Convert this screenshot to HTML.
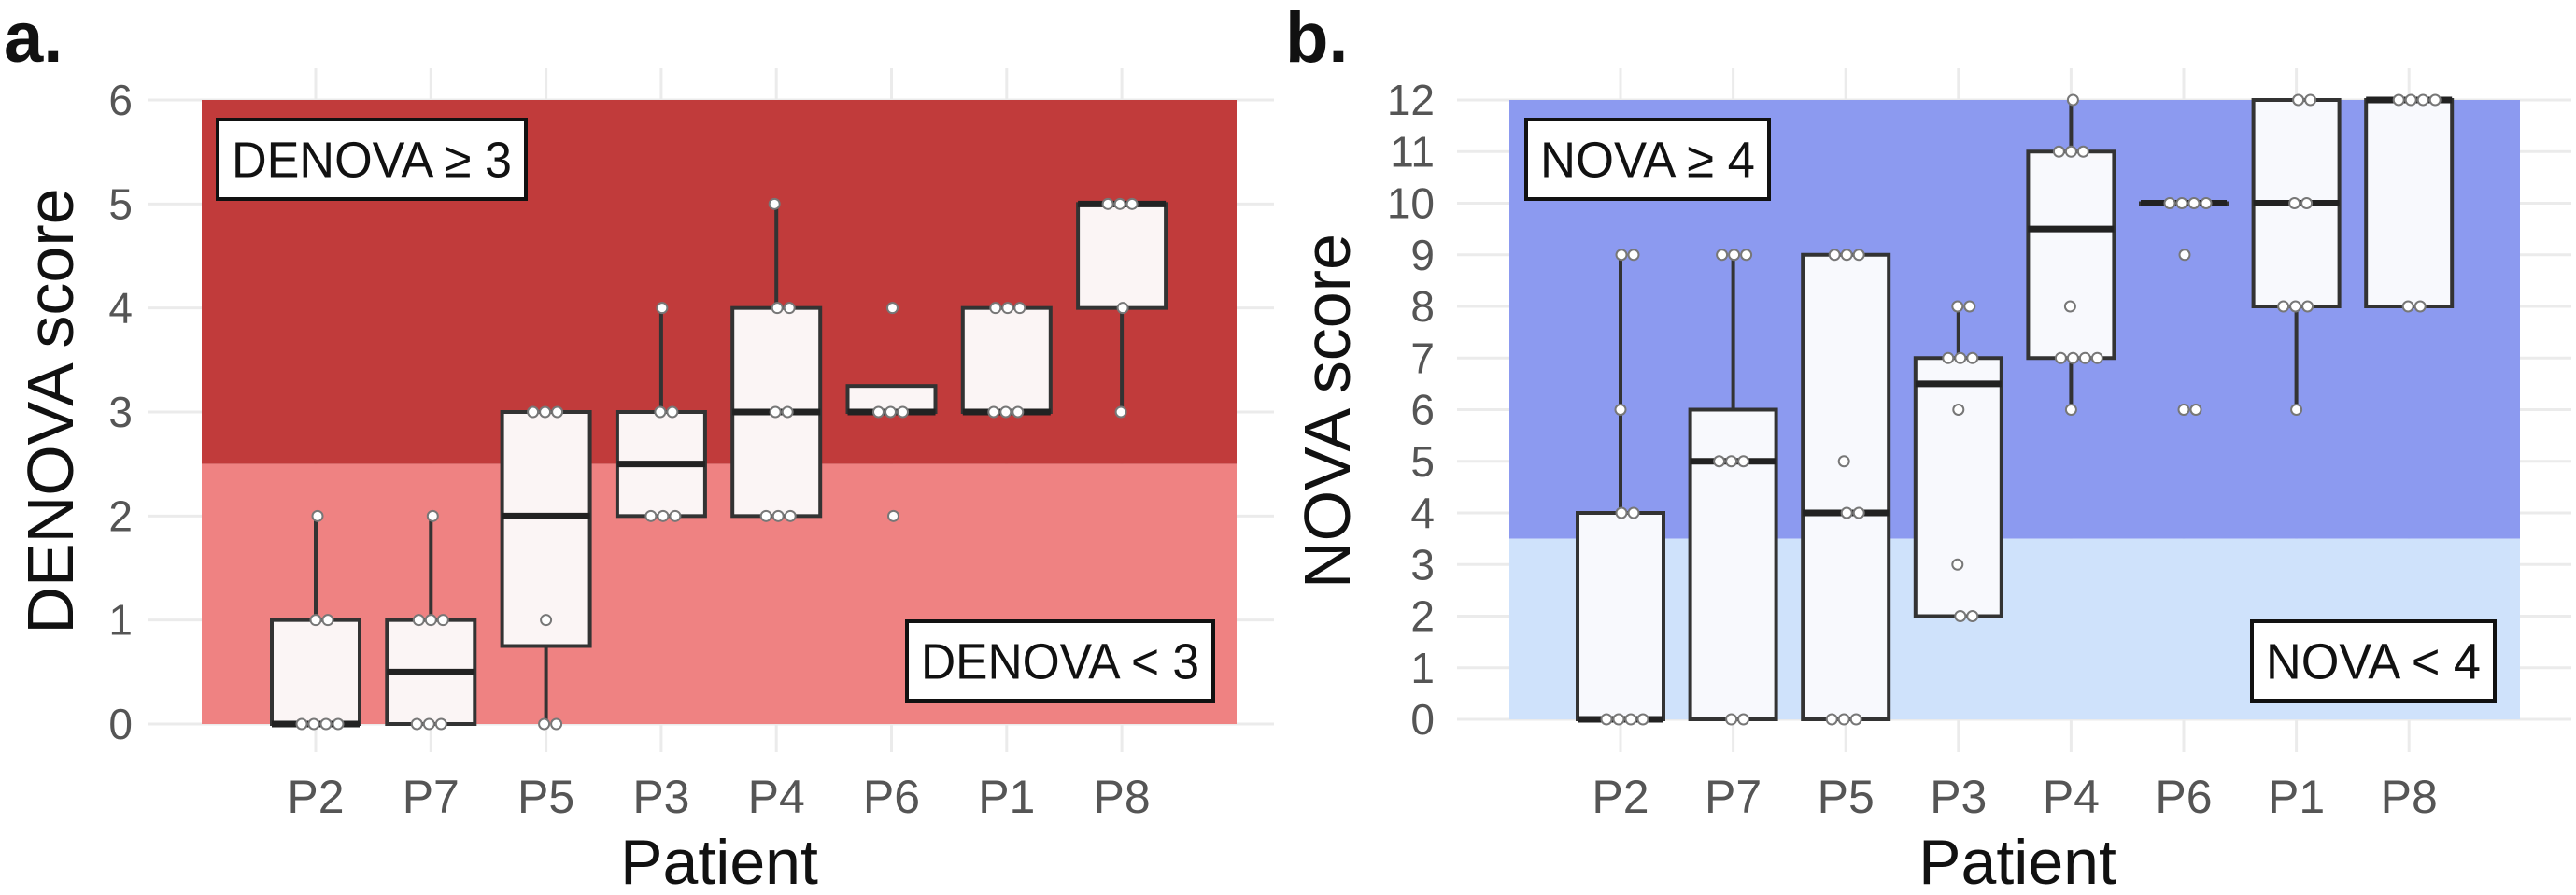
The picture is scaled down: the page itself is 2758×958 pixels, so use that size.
<!DOCTYPE html>
<html><head><meta charset="utf-8">
<style>
html,body{margin:0;padding:0;background:#fff;}
svg{display:block;font-family:"Liberation Sans",sans-serif;}
</style></head>
<body>
<svg id="chart" width="2758" height="958" viewBox="0 0 2758 958"></svg>
<script>
const categories = ["P2","P7","P5","P3","P4","P6","P1","P8"];
// Panel a: DENOVA
const denovaQ1 =  [0, 0,   0.75, 2,   2, 3,    3, 4];
const denovaMed = [0, 0.5, 2,    2.5, 3, 3,    3, 5];
const denovaQ3 =  [1, 1,   3,    3,   4, 3.25, 4, 5];
const denovaLo =  [0, 0,   0,    2,   2, 3,    3, 3];
const denovaHi =  [2, 2,   3,    4,   5, 3.25, 4, 5];
const denovaPts = [
  [2,1,1,0,0,0,0],[2,1,1,1,0,0,0],[3,3,3,1,0,0],[4,3,3,2,2,2],
  [5,4,4,3,3,2,2,2],[4,3,3,3,2],[4,4,4,3,3,3],[5,5,5,4,3]];
const denovaTicks = [0,1,2,3,4,5,6];
const denovaThreshold = 2.5;
// Panel b: NOVA
const novaQ1 =  [0, 0, 0, 2,   7,   10, 8,  8];
const novaMed = [0, 5, 4, 6.5, 9.5, 10, 10, 12];
const novaQ3 =  [4, 6, 9, 7,   11,  10, 12, 12];
const novaLo =  [0, 0, 0, 2,   6,   10, 6,  8];
const novaHi =  [9, 9, 9, 8,   12,  10, 12, 12];
const novaPts = [
  [9,9,6,4,4,0,0,0,0],[9,9,9,5,5,5,0,0],[9,9,9,5,4,4,0,0,0],[8,8,7,7,7,6,3,2,2],
  [12,11,11,11,8,7,7,7,7,6],[10,10,10,10,9,6,6],[12,12,10,10,8,8,8,6],[12,12,12,12,8,8]];
const novaTicks = [0,1,2,3,4,5,6,7,8,9,10,11,12];
const novaThreshold = 3.5;

const NS="http://www.w3.org/2000/svg";
const svg=document.getElementById('chart');
function mk(tag,attrs,parent){const e=document.createElementNS(NS,tag);for(const k in attrs)e.setAttribute(k,attrs[k]);(parent||svg).appendChild(e);return e;}

function panel(cfg){
  const g=mk('g',{});
  
  
  const yS=v=>cfg.y0+(cfg.y1-cfg.y0)*(v/cfg.max);
  const xS=i=>cfg.xFirst+i*cfg.step;
  // gridlines
  cfg.ticks.forEach(t=>{
    const l=mk('line',{x1:cfg.gx0,x2:cfg.gx1,y1:yS(t),y2:yS(t),stroke:'#ebebeb','stroke-width':3},g);
    
    
  });
  categories.forEach((c,i)=>{
    const l=mk('line',{x1:xS(i),x2:xS(i),y1:73,y2:805,stroke:'#ebebeb','stroke-width':3},g);
    
    
  });
  // backgrounds
  const hi=mk('rect',{x:cfg.bx0,y:yS(cfg.max),width:cfg.bx1-cfg.bx0,height:yS(cfg.thr)-yS(cfg.max),fill:cfg.dark},g);
  
  
  const lo=mk('rect',{x:cfg.bx0,y:yS(cfg.thr),width:cfg.bx1-cfg.bx0,height:yS(0)-yS(cfg.thr),fill:cfg.light},g);
  
  
  // boxes
  categories.forEach((c,i)=>{
    const x=xS(i),w=cfg.bw;
    const bg=mk('g',{},g);
    
    
    mk('line',{x1:x,x2:x,y1:yS(cfg.hi[i]),y2:yS(cfg.q3[i]),stroke:'#333','stroke-width':4},bg);
    mk('line',{x1:x,x2:x,y1:yS(cfg.q1[i]),y2:yS(cfg.lo[i]),stroke:'#333','stroke-width':4},bg);
    mk('rect',{x:x-w/2,y:yS(cfg.q3[i]),width:w,height:Math.max(1,yS(cfg.q1[i])-yS(cfg.q3[i])),fill:cfg.boxFill,stroke:'#333','stroke-width':4},bg);
    mk('line',{x1:x-w/2,x2:x+w/2,y1:yS(cfg.med[i]),y2:yS(cfg.med[i]),stroke:'#222','stroke-width':7},bg);
    // points with deterministic jitter
    const seen={};
    cfg.pts[i].forEach(v=>{
      const k=seen[v]||0;seen[v]=k+1;
      const off=((k%2?1:-1)*Math.ceil(k/2)*13)+((v*7)%5)-2;
      const p=mk('circle',{cx:x+off,cy:yS(v),r:5.5,fill:'#fff',stroke:'#777','stroke-width':2},bg);
      
      
    });
  });
  // y ticks
  cfg.ticks.forEach(t=>{
    const tx=mk('text',{x:cfg.tickX,y:yS(t)+16,'text-anchor':'end','font-size':46,fill:'#555'},g);
    tx.textContent=t;
    
    
  });
  categories.forEach((c,i)=>{
    const tx=mk('text',{x:xS(i),y:870,'text-anchor':'middle','font-size':50,fill:'#555'},g);
    tx.textContent=c;
    
    
  });
  const xt=mk('text',{x:cfg.xTitleX,y:946,'text-anchor':'middle','font-size':68,fill:'#111'},g);
  xt.textContent='Patient';
  
  
  const yt=mk('text',{x:0,y:0,'text-anchor':'middle','font-size':70,fill:'#111',transform:`translate(${cfg.yTitleX},440) rotate(-90)`},g);
  yt.textContent=cfg.yTitle;
  
  
  const pl=mk('text',{x:cfg.letterX,y:66,'font-size':76,'font-weight':'bold',fill:'#111'},g);
  pl.textContent=cfg.letter;
  
  
  cfg.labels.forEach(L=>{
    const lg=mk('g',{},g);
    
    
    mk('rect',{x:L.x,y:L.y,width:L.w,height:L.h,fill:'#fff',stroke:'#111','stroke-width':4},lg);
    const t=mk('text',{x:L.x+L.w/2,y:L.y+L.h/2+19,'text-anchor':'middle','font-size':54,fill:'#111',textLength:L.w-30,lengthAdjust:'spacingAndGlyphs'},lg);
    t.textContent=L.text;
  });
}

panel({name:'panel-a-denova',y0:775,y1:107,max:6,thr:denovaThreshold,xFirst:338,step:123.3,
  gx0:158,gx1:1364,bx0:216,bx1:1324,bw:94,dark:'#c13b3b',light:'#ef8282',boxFill:'#fbf5f5',
  q1:denovaQ1,med:denovaMed,q3:denovaQ3,lo:denovaLo,hi:denovaHi,pts:denovaPts,ticks:denovaTicks,
  tickX:142,xTitleX:770,yTitleX:78,yTitle:'DENOVA score',letter:'a.',letterX:4,
  labels:[{name:'high-label',text:'DENOVA \u2265 3',x:233,y:128,w:330,h:85},{name:'low-label',text:'DENOVA < 3',x:971,y:665,w:328,h:85}]});
panel({name:'panel-b-nova',y0:770,y1:107,max:12,thr:novaThreshold,xFirst:1735,step:120.6,
  gx0:1560,gx1:2753,bx0:1616,bx1:2698,bw:92,dark:'#8c9af0',light:'#cfe2fb',boxFill:'#f8f9fd',
  q1:novaQ1,med:novaMed,q3:novaQ3,lo:novaLo,hi:novaHi,pts:novaPts,ticks:novaTicks,
  tickX:1536,xTitleX:2160,yTitleX:1445,yTitle:'NOVA score',letter:'b.',letterX:1376,
  labels:[{name:'high-label',text:'NOVA \u2265 4',x:1634,y:128,w:260,h:85},{name:'low-label',text:'NOVA < 4',x:2411,y:665,w:260,h:85}]});
</script>
</body></html>
